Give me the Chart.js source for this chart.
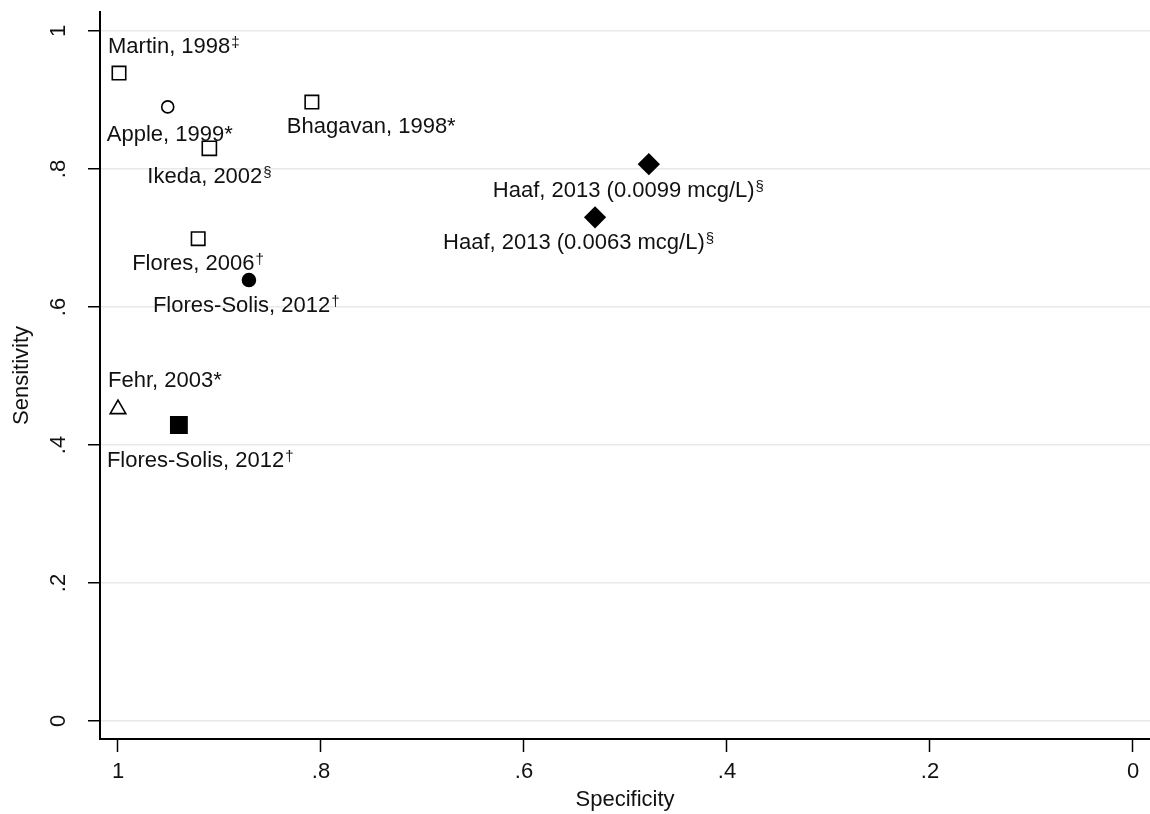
<!DOCTYPE html>
<html>
<head>
<meta charset="utf-8">
<script src="https://cdn.jsdelivr.net/npm/chart.js@4.4.0/dist/chart.umd.min.js"></script>
<style>
  body { margin: 0; background: #fff; }
  #wrap { width: 1150px; height: 814px; }
</style>
</head>
<body>
<div id="wrap"><canvas id="roc" width="1150" height="814"></canvas></div>
<script>
// studies, footnote marks, and the two coordinates
var studies = ['Martin, 1998', 'Apple, 1999', 'Bhagavan, 1998', 'Ikeda, 2002',
    'Haaf, 2013 (0.0099 mcg/L)', 'Haaf, 2013 (0.0063 mcg/L)', 'Flores, 2006',
    'Flores-Solis, 2012', 'Fehr, 2003', 'Flores-Solis, 2012']
var notes = ['\u2021', '*', '*', '\u00a7', '\u00a7', '\u00a7', '\u2020', '\u2020', '*', '\u2020']
var specificity = [0.999, 0.951, 0.809, 0.910, 0.477, 0.530, 0.921, 0.871, 1.000, 0.940]
var sensitivity = [0.939, 0.890, 0.897, 0.830, 0.807, 0.730, 0.699, 0.639, 0.452, 0.429]
var tickValues = [0, 0.2, 0.4, 0.6, 0.8, 1]
var tickText = ['0', '.2', '.4', '.6', '.8', '1']

// marker look per study
var shapes = ['rect', 'circle', 'rect', 'rect', 'rectRot', 'rectRot', 'rect', 'circle', 'triangle', 'rect']
var filled = [false, false, false, false, true, true, false, true, false, true]
var sizes = [9.5, 6, 9.5, 10, 10, 10, 9.5, 6.5, 9, 11.5]
// label placement relative to the marker (left edge, baseline)
var labelShift = [[-11, -20], [-61, 34], [-25, 31], [-62, 35], [-156, 33],
    [-152, 32], [-66, 31], [-96, 32], [-10, -22], [-72, 42]]

var FONT = '"Liberation Sans", Arial, sans-serif'
var ink = '#111'

var points = specificity.map(function (s, i) { return { x: s, y: sensitivity[i] } })

var pointLabels = {
    id: 'pointLabels',
    afterDatasetsDraw: function (chart) {
        var ctx = chart.ctx
        var meta = chart.getDatasetMeta(0)
        ctx.save()
        ctx.fillStyle = ink
        ctx.textBaseline = 'alphabetic'
        ctx.textAlign = 'left'
        meta.data.forEach(function (el, i) {
            var x = el.x + labelShift[i][0]
            var y = el.y + labelShift[i][1]
            ctx.font = '22px ' + FONT
            ctx.fillText(studies[i], x, y)
            var w = ctx.measureText(studies[i]).width
            if (notes[i] === '*') {
                ctx.fillText('*', x + w, y)
            } else {
                ctx.font = '15px ' + FONT
                ctx.fillText(notes[i], x + w + 1, y - 6)
            }
        })
        ctx.restore()
    }
}

function noPadX(s) { s.height = 75; s.paddingLeft = 0; s.paddingRight = 0 }
function noPadY(s) { s.width = 100; s.paddingTop = 0; s.paddingBottom = 0 }

var ctx = document.getElementById('roc').getContext('2d')
var chart = new Chart(ctx, {
    type: 'scatter',
    data: {
        datasets: [{
            data: points,
            pointStyle: shapes,
            pointRadius: sizes,
            pointHoverRadius: sizes,
            pointBorderWidth: 1.6,
            borderColor: '#000',
            pointBorderColor: '#000',
            pointBackgroundColor: filled.map(function (f) { return f ? '#000' : '#fff' }),
            clip: false
        }]
    },
    options: {
        responsive: false,
        animation: false,
        layout: { autoPadding: false, padding: { top: 12, right: 0, left: 0, bottom: 0 } },
        plugins: { legend: { display: false }, tooltip: { enabled: false } },
        scales: {
            x: {
                type: 'linear',
                reverse: true,
                min: -0.01675,
                max: 1.01773,
                afterBuildTicks: function (s) { s.ticks = tickValues.map(function (v) { return { value: v } }) },
                afterFit: noPadX,
                grid: { drawOnChartArea: false, drawTicks: true, tickLength: 13, tickColor: '#000', tickWidth: 1.5 },
                border: { color: '#000', width: 2 },
                ticks: {
                    color: ink, font: { family: FONT, size: 22 }, padding: 7, maxRotation: 0,
                    callback: function (v) { return tickText[tickValues.indexOf(v)] }
                },
                title: { display: true, text: 'Specificity', color: ink, font: { family: FONT, size: 22 }, padding: { top: 0, bottom: 1 } }
            },
            y: {
                type: 'linear',
                min: -0.0261,
                max: 1.0275,
                afterBuildTicks: function (s) { s.ticks = tickValues.map(function (v) { return { value: v } }) },
                afterFit: noPadY,
                grid: { color: '#e9e9e9', lineWidth: 1.5, tickLength: 12, tickColor: '#000', tickWidth: 1.5 },
                border: { color: '#000', width: 2 },
                ticks: {
                    color: ink, font: { family: FONT, size: 22 }, padding: 20, minRotation: 90, maxRotation: 90,
                    crossAlign: 'center',
                    callback: function (v) { return tickText[tickValues.indexOf(v)] }
                },
                title: { display: true, text: 'Sensitivity', color: ink, font: { family: FONT, size: 22 }, padding: { top: 9, bottom: 0 } }
            }
        }
    },
    plugins: [pointLabels]
})
</script>
</body>
</html>
